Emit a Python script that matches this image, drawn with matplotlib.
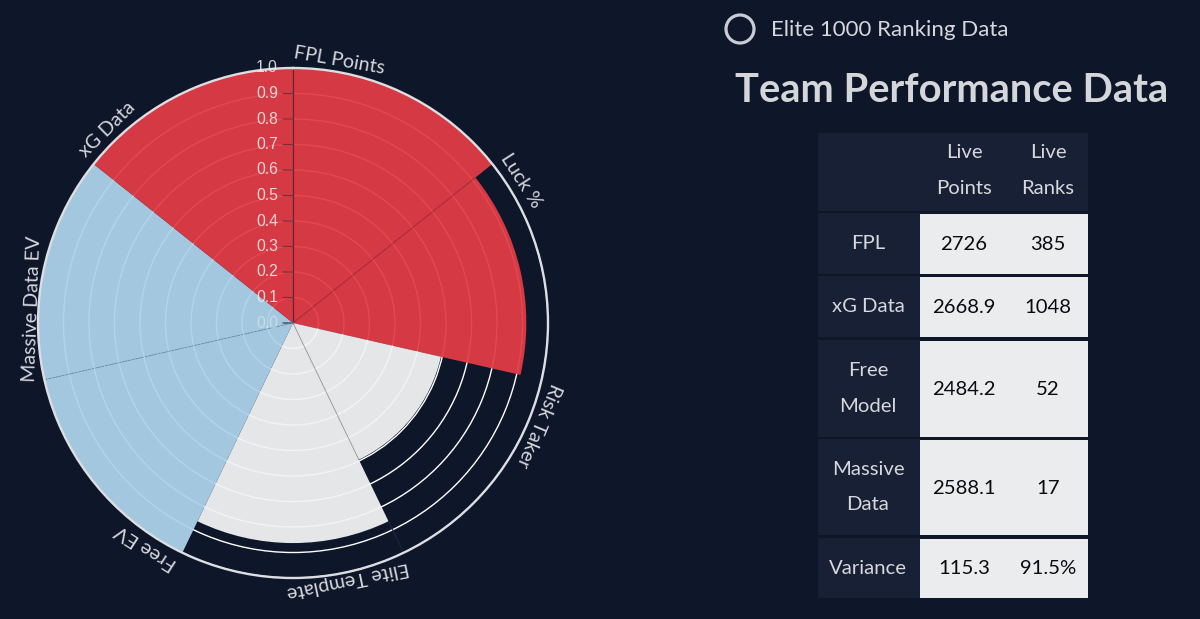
import numpy as np
import matplotlib
matplotlib.use("Agg")
import matplotlib.pyplot as plt
from matplotlib.patches import Rectangle, Circle
from matplotlib.colors import to_rgb

# ---------- data ----------
categories = ["FPL Points", "Luck %", "Risk Taker", "Elite Template", "Free EV", "Massive Data EV", "xG Data"]
values = [1.0, 0.915, 0.595, 0.863, 1.0, 1.0, 1.0]
bar_colors = ["#d63a43", "#d63a43", "#e6e7e8", "#e6e7e8", "#a3c8e0", "#a3c8e0", "#d63a43"]
radial_ticks = [0.0, 0.1, 0.2, 0.3, 0.4, 0.5, 0.6, 0.7, 0.8, 0.9, 1.0]

table_header = ["", "Live\nPoints", "Live\nRanks"]
table_labels = ["FPL", "xG Data", "Free\nModel", "Massive\nData", "Variance"]
live_points = ["2726", "2668.9", "2484.2", "2588.1", "115.3"]
live_ranks = ["385", "1048", "52", "17", "91.5%"]

# ---------- style ----------
BG = "#0e1629"
CELL = "#182035"
LIGHT = "#ebecee"
TEXT = "#d6d8dc"
FONT = "Lato"
plt.rcParams["font.family"] = [FONT, "DejaVu Sans"]

W, H = 1200, 619
fig = plt.figure(figsize=(W / 100, H / 100), dpi=100, facecolor=BG)

# ---------- polar chart ----------
cx, cy, R = 293, 323, 255
ax = fig.add_axes([(cx - R) / W, (H - cy - R) / H, 2 * R / W, 2 * R / H], projection="polar")
ax.set_facecolor(BG)
ax.set_theta_zero_location("N")
ax.set_theta_direction(-1)
ax.set_ylim(0, 1)

n = len(categories)
step = 2 * np.pi / n
starts = np.arange(n) * step
alpha = 0.945
bg_rgb = np.array(to_rgb(BG))
composite = [(np.array(to_rgb(c)) - (1 - alpha) * bg_rgb) / alpha for c in bar_colors]
composite = [tuple(np.clip(c, 0, 1)) for c in composite]
ax.bar(starts, values, width=step, bottom=0, align="edge", color=composite, alpha=alpha,
       linewidth=0, zorder=2)

ax.set_axisbelow(True)
ax.set_xticks([])
ax.set_yticks(radial_ticks)
ax.set_yticklabels([])
ax.tick_params(axis="y", length=0)
ax.yaxis.grid(True, color="#ffffff", linewidth=1.0)
ax.xaxis.grid(False)
ax.spines["polar"].set_color("#dcdee2")
ax.spines["polar"].set_linewidth(1.7)
ax.spines["polar"].set_zorder(5)

# radial axis line, ticks, tick labels and sector separators
ax.plot([0, 0], [0, 1], color="#6a2230", lw=0.9, zorder=4)
for t in radial_ticks:
    ax.annotate("", xy=(0, t), xytext=(-10, 0), textcoords="offset pixels",
                arrowprops=dict(arrowstyle="-", color="#7a2f3a" if t > 0 else "#2a3f5f", lw=0.9,
                                shrinkA=0, shrinkB=0), zorder=4)
    ax.annotate(f"{t:.1f}", xy=(0, t), xytext=(-15, 0), textcoords="offset pixels",
                ha="right", va="center", fontsize=11.3, fontfamily="Liberation Sans",
                color="#eeecec", alpha=0.88 if t > 0.05 else 0.55, zorder=6, annotation_clip=False)
ax.plot([starts[1]] * 2, [0, values[1]], color="#a02e3a", lw=0.6, zorder=4)
ax.plot([starts[3]] * 2, [0, values[2]], color="#9b9ea2", lw=0.6, zorder=4)
ax.plot([starts[3]] * 2, [values[3], 1], color="#1d2740", lw=0.7, zorder=4)
ax.plot([starts[5]] * 2, [0, 1], color="#6f94b0", lw=0.7, ls=(0, (2, 1.5)), zorder=4)

# category labels, set tangentially starting at their tick
for th, name in zip(starts, categories):
    half = np.degrees(len(name) * 9.2 / 265) / 2
    ax.text(th, 1.038, name, rotation=-(np.degrees(th) + half), rotation_mode="anchor",
            ha="left", va="baseline", fontsize=14.1, color=TEXT, zorder=6, clip_on=False)

# ---------- right panel (pixel coordinates) ----------
ov = fig.add_axes([0, 0, 1, 1], facecolor="none")
ov.set_xlim(0, W)
ov.set_ylim(H, 0)
ov.axis("off")

ov.add_patch(Circle((740, 29), 14, facecolor="none", edgecolor="#c9ccd4", linewidth=2.3))
ov.text(771, 29.5, "Elite 1000 Ranking Data", fontsize=16, color=TEXT, va="center", ha="left")
ov.text(952, 90, "Team Performance Data", fontsize=28.7, fontweight="bold", color="#d5d6da",
        va="center", ha="center")

x0, x1, x2 = 817.5, 919.5, 1087.5
col_label, col_pts, col_rank = 868, 964, 1048
row_spans = [(214, 274), (277, 337), (341, 437), (440, 535), (539, 598)]

ov.add_patch(Rectangle((x0, 133), x2 - x0, 78, facecolor=CELL, edgecolor="none"))
for xc, head in zip((col_label, col_pts, col_rank), table_header):
    ov.text(xc, 170.5, head, fontsize=14.6, color=TEXT, ha="center", va="center", linespacing=2.32)

for (y0, y1), lab, pts, rnk in zip(row_spans, table_labels, live_points, live_ranks):
    ov.add_patch(Rectangle((x0, y0 - 1), x1 - x0, y1 - y0 + 1, facecolor=CELL, edgecolor="none"))
    ov.add_patch(Rectangle((x1, y0), x2 - x1, y1 - y0, facecolor=LIGHT, edgecolor="none"))
    ym = (y0 + y1) / 2 + 0.5
    ov.text(col_label, ym - 1, lab, fontsize=14.6, color=TEXT, ha="center", va="center", linespacing=2.32)
    ov.text(col_pts, ym, pts, fontsize=14.6, color="#0b0b0f", ha="center", va="center")
    ov.text(col_rank, ym, rnk, fontsize=14.6, color="#0b0b0f", ha="center", va="center")

fig.savefig("out.png", dpi=100, facecolor=BG)
